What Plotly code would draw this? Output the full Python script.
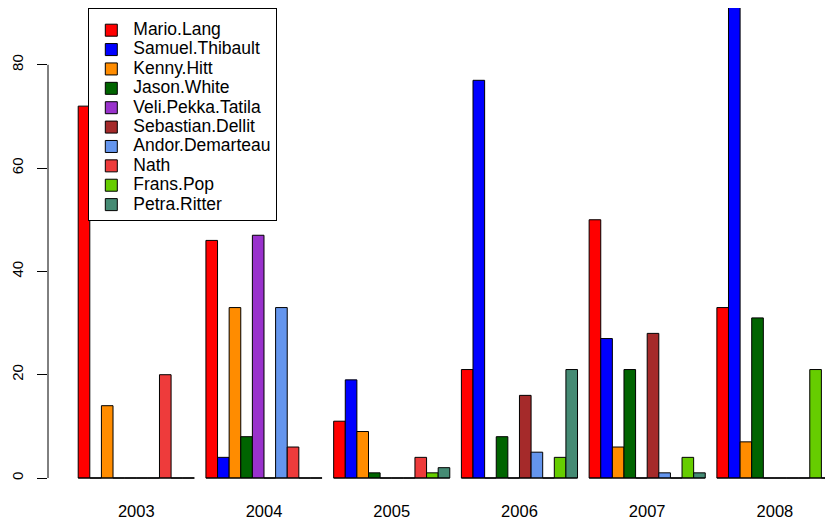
import plotly.graph_objects as go

years = ["2003", "2004", "2005", "2006", "2007", "2008"]
names = ["Mario.Lang", "Samuel.Thibault", "Kenny.Hitt", "Jason.White",
         "Veli.Pekka.Tatila", "Sebastian.Dellit", "Andor.Demarteau",
         "Nath", "Frans.Pop", "Petra.Ritter"]
colors = ["#FF0000", "#0000FF", "#FF8C00", "#006400", "#9932CC",
          "#A52A2A", "#6495ED", "#EE3B3B", "#66CD00", "#458B74"]

mario     = [72, 46, 11, 21, 50, 33]
samuel    = [0, 4, 19, 77, 27, 100]
kenny     = [14, 33, 9, 0, 6, 7]
jason     = [0, 8, 1, 8, 21, 31]
veli      = [0, 47, 0, 0, 0, 0]
sebastian = [0, 0, 0, 16, 28, 0]
andor     = [0, 33, 0, 5, 1, 0]
nath      = [20, 6, 4, 0, 0, 0]
frans     = [0, 0, 1, 4, 4, 21]
petra     = [0, 0, 2, 21, 1, 0]

series = [mario, samuel, kenny, jason, veli, sebastian, andor, nath, frans, petra]
yticks = [0, 20, 40, 60, 80]

n = len(names)
fig = go.Figure()

# baseline under each group (zero-height bars are drawn as lines in R)
bx, by = [], []
for g in range(len(years)):
    bx += [g * (n + 1) + 1, g * (n + 1) + 1 + n, None]
    by += [0, 0, None]
fig.add_trace(go.Scatter(x=bx, y=by, mode="lines", line=dict(color="black", width=1),
                         showlegend=False, hoverinfo="skip"))

for i, (nm, col, vals) in enumerate(zip(names, colors, series)):
    xs = [g * (n + 1) + 1 + i + 0.5 for g in range(len(years))]
    fig.add_trace(go.Bar(x=xs, y=vals, width=1,
                         name='<span style="font-size:17.5px">' + nm + '</span>',
                         marker=dict(color=col, line=dict(color="black", width=1))))

centers = [g * (n + 1) + 1 + n / 2 for g in range(len(years))]

fig.update_layout(
    width=825, height=513,
    margin=dict(l=40, r=0, t=0, b=26),
    plot_bgcolor="white", paper_bgcolor="white",
    barmode="overlay",
    font=dict(family="Liberation Sans, Arial, sans-serif", size=15, color="black"),
    showlegend=True,
    legend=dict(x=(80.3 - 40) / 785, y=1.0, xanchor="left", yanchor="top",
                bordercolor="black", borderwidth=1, bgcolor="white",
                font=dict(size=12.6), traceorder="normal", tracegroupgap=0,
                itemwidth=34, title=dict(text=" ", font=dict(size=5))),
    xaxis=dict(range=[-1.6, 66], tickvals=centers, ticktext=years, ticks="",
               showline=False, showgrid=False, zeroline=False, automargin=False,
               tickfont=dict(size=16.5), ticklabelstandoff=4),
    yaxis=dict(range=[-3.29, 91.0], tickvals=yticks, ticks="outside", ticklen=10,
               tickcolor="black", tickwidth=1, tickangle=-90, showline=False,
               showgrid=False, zeroline=False, automargin=False,
               tickfont=dict(size=15), ticklabelstandoff=8),
    shapes=[dict(type="line", xref="paper", x0=0, x1=0, yref="y",
                 y0=min(yticks), y1=max(yticks), line=dict(color="black", width=1))],
)

fig.write_html("out.html")
